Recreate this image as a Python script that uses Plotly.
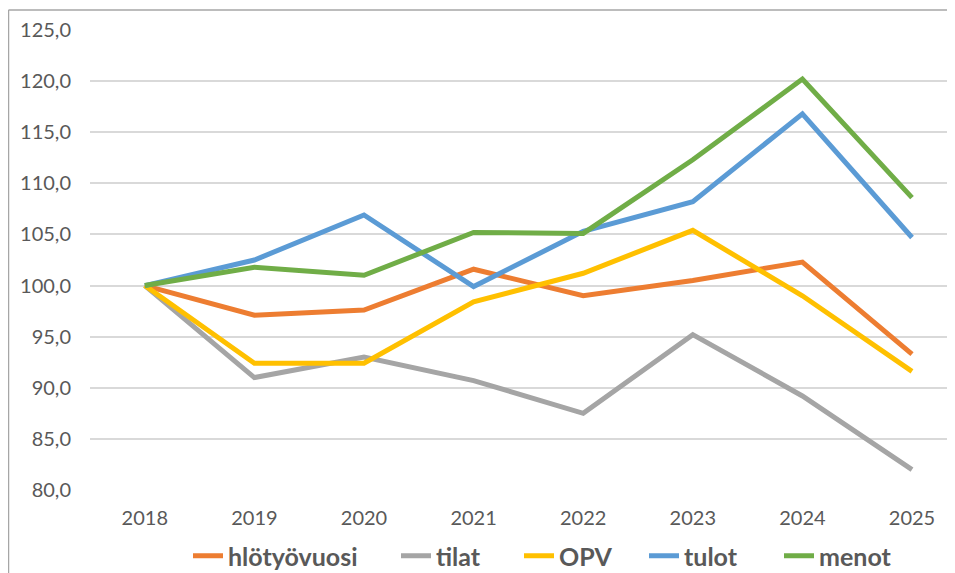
import plotly.graph_objects as go

years = ["2018", "2019", "2020", "2021", "2022", "2023", "2024", "2025"]
hlotyovuosi = [100.0, 97.1, 97.6, 101.6, 99.0, 100.5, 102.3, 93.3]
tilat = [100.0, 91.0, 93.0, 90.7, 87.5, 95.2, 89.2, 82.0]
opv = [100.0, 92.4, 92.4, 98.4, 101.2, 105.4, 99.0, 91.6]
tulot = [100.0, 102.5, 106.9, 99.9, 105.3, 108.2, 116.8, 104.7]
menot = [100.0, 101.8, 101.0, 105.2, 105.1, 112.3, 120.2, 108.6]

series = [
    ("hlötyövuosi", hlotyovuosi, "#ED7D31"),
    ("tilat", tilat, "#A5A5A5"),
    ("OPV", opv, "#FFC000"),
    ("tulot", tulot, "#5B9BD5"),
    ("menot", menot, "#70AD47"),
]

# page body has an 8px margin, so figure coords = screen coords - 8
OFF = 8
W, H = 955 - OFF, 573 - OFF
L, R, T, B = 90 - OFF, 0, 30 - OFF, 573 - 490
pw, ph = W - L - R, H - T - B
step = 109.6

def px_x(p):
    return (p - OFF - L) / pw

def px_y(p):
    return (H - B - (p - OFF)) / ph

# screen x where each legend label text starts
legend_text_x = [230, 438, 561, 686, 821]
TEXT_OFF = 42

fig = go.Figure()
legend_layouts = {}
for i, (name, vals, col) in enumerate(series):
    lname = "legend" if i == 0 else f"legend{i + 1}"
    fig.add_trace(go.Scatter(
        x=list(range(len(years))), y=vals, name=name, mode="lines",
        line=dict(color=col, width=5), legend=lname,
    ))
    legend_layouts[lname] = dict(
        orientation="h", x=px_x(legend_text_x[i] - TEXT_OFF), xanchor="left",
        y=px_y(556), yanchor="middle", bgcolor="rgba(0,0,0,0)",
        font=dict(family="Lato", size=25, color="#595959", weight="bold"),
    )

fig.update_layout(
    width=W, height=H,
    margin=dict(l=L, r=R, t=T, b=B, autoexpand=False),
    paper_bgcolor="white", plot_bgcolor="white",
    separators=", ",
    font=dict(family="Lato", size=20, color="#595959"),
    showlegend=True,
    xaxis=dict(
        tickmode="array", tickvals=list(range(len(years))), ticktext=years,
        range=[-0.5, pw / step - 0.5],
        showgrid=False, zeroline=False, showline=False,
        ticks="", ticklabelstandoff=14,
        tickfont=dict(size=20, color="#595959"),
    ),
    yaxis=dict(
        range=[80, 125], dtick=5, tick0=80, tickformat=".1f",
        showgrid=True, gridcolor="#D9D9D9", gridwidth=1.5,
        zeroline=False, showline=False, ticks="",
        ticklabelstandoff=18,
        tickfont=dict(size=20, color="#595959"),
    ),
    shapes=[
        dict(type="line", xref="paper", yref="paper",
             x0=px_x(8.5), x1=px_x(8.5), y0=px_y(580), y1=px_y(10),
             line=dict(color="#A6A6A6", width=1.5)),
        dict(type="line", xref="paper", yref="paper",
             x0=px_x(8.5), x1=px_x(965), y0=px_y(10), y1=px_y(10),
             line=dict(color="#A6A6A6", width=1.5)),
    ],
    **legend_layouts,
)

fig.write_html("out.html")
